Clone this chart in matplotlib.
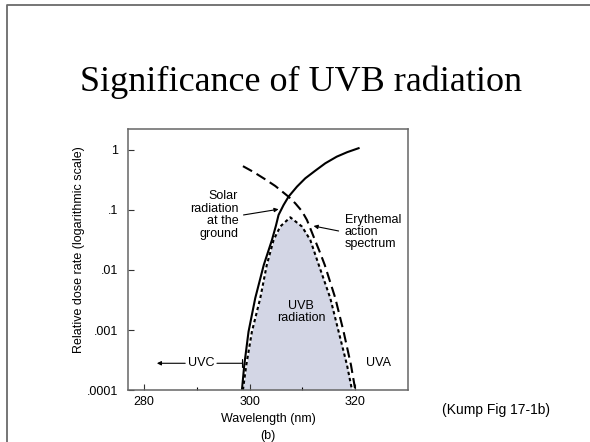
import matplotlib
matplotlib.use("Agg")
import matplotlib.pyplot as plt
from matplotlib.lines import Line2D
from matplotlib.ticker import FixedLocator, NullLocator

plt.rcParams['font.family'] = ['Liberation Sans', 'DejaVu Sans']

# solar radiation at the ground (solid)
solar_wl = [298.56, 299.0, 299.81, 301.08, 302.69, 304.24, 305.0, 305.49,
            306.44, 307.39, 308.98, 310.55, 312.45, 314.34, 316.5, 318.5,
            320.64]
solar_val = [1.0e-4, 2.6e-4, 9.4e-4, 3.4e-3, 1.21e-2, 3.16e-2, 5.5e-2,
             8.26e-2, 0.121, 0.167, 0.245, 0.337, 0.452, 0.600, 0.773, 0.92,
             1.07]

# erythemal action spectrum (dashed)
ery_wl = [298.75, 300.8, 302.97, 304.87, 306.14, 307.39, 308.66, 309.92,
          310.87, 312.12, 313.39, 314.24, 316.23, 317.80, 319.20, 320.02]
ery_val = [0.537, 0.427, 0.324, 0.251, 0.204, 0.166, 0.129, 9.55e-2,
           6.8e-2, 3.6e-2, 1.9e-2, 1.21e-2, 3.4e-3, 9.4e-4, 2.6e-4, 1.0e-4]

# product = UVB dose (dotted, shaded)
uvb_wl = [298.75, 299.38, 300.45, 302.03, 303.26, 304.55, 305.81, 307.71,
          309.92, 311.50, 313.11, 315.28, 316.86, 318.45, 319.39]
uvb_val = [1.0e-4, 2.6e-4, 9.4e-4, 3.4e-3, 1.21e-2, 3.16e-2, 5.3e-2, 7.55e-2,
           5.3e-2, 3.16e-2, 1.21e-2, 3.4e-3, 9.4e-4, 2.6e-4, 1.0e-4]

ytick_vals = [1e-4, 1e-3, 1e-2, 1e-1, 1]
ytick_labels = ['.0001', '.001', '.01', '.1', '1']
xtick_major = [280, 300, 320]
xtick_minor = [290, 310]

fig = plt.figure(figsize=(5.9, 4.42), dpi=100)
ax = fig.add_axes([0.217, 0.1176, 0.4746, 0.5912])

ax.fill_between(uvb_wl, 1e-4, uvb_val, color='#d3d6e5', lw=0)
ax.plot(uvb_wl, uvb_val, color='black', lw=1.5, linestyle=(0, (1.6, 1.4)))
ax.plot(ery_wl, ery_val, color='black', lw=1.5, linestyle=(0, (5, 2.5)))
ax.plot(solar_wl, solar_val, color='black', lw=1.5)

ax.set_yscale('log')
ax.set_xlim(277, 330)
ax.set_ylim(1e-4, 2.26)
ax.yaxis.set_major_locator(FixedLocator(ytick_vals))
ax.yaxis.set_minor_locator(NullLocator())
ax.set_yticklabels(ytick_labels)
ax.set_xticks(xtick_major)
ax.set_xticks(xtick_minor, minor=True)
ax.tick_params(axis='both', which='major', direction='in', length=4.5,
               width=0.8, labelsize=9, color='#333333')
ax.tick_params(axis='x', which='minor', direction='in', length=2.5, width=0.8)
ax.tick_params(axis='y', pad=7)
ax.tick_params(axis='x', pad=4)
for s in ax.spines.values():
    s.set_color('#666666')
    s.set_linewidth(1.1)

# labels inside the plot
ax.text(297.86, 0.0826, 'Solar\nradiation\nat the\nground', ha='right',
        va='center', fontsize=9, linespacing=1.05, multialignment='right')
ax.annotate('', xy=(305.49, 10**-0.988), xytext=(298.86, 10**-1.083),
            arrowprops=dict(arrowstyle='-|>', color='black', lw=0.8,
                            mutation_scale=6, shrinkA=0, shrinkB=0))
ax.text(317.99, 0.043, 'Erythemal\naction\nspectrum', ha='left', va='center',
        fontsize=9, linespacing=1.05)
ax.annotate('', xy=(312.12, 10**-1.267), xytext=(316.86, 10**-1.35),
            arrowprops=dict(arrowstyle='-|>', color='black', lw=0.8,
                            mutation_scale=6, shrinkA=0, shrinkB=0))
ax.text(309.73, 0.002, 'UVB\nradiation', ha='center', va='center',
        fontsize=9, linespacing=1.05)
ax.text(290.85, 2.79e-4, 'UVC', ha='center', va='center', fontsize=9)
ax.annotate('', xy=(282.46, 2.79e-4), xytext=(287.82, 2.79e-4),
            arrowprops=dict(arrowstyle='-|>', color='black', lw=0.8,
                            mutation_scale=6, shrinkA=0, shrinkB=0))
ax.annotate('', xy=(298.56, 2.79e-4), xytext=(293.83, 2.79e-4),
            arrowprops=dict(arrowstyle='-[, widthB=0.35, lengthB=0',
                            color='black', lw=0.8,
                            mutation_scale=8, shrinkA=0, shrinkB=0))
ax.text(324.43, 2.79e-4, 'UVA', ha='center', va='center', fontsize=9)

# slide frame, title and captions
fig.add_artist(Line2D([7/590, 7/590, 1.0], [0.0, 1 - 5/442, 1 - 5/442],
                      color='#6a6a6a', lw=1.3))
fig.text(301/590, 1 - 91/442, 'Significance of UVB radiation', ha='center',
         va='baseline', fontsize=26, family='Liberation Serif')
fig.text(79/590, 1 - 250/442, 'Relative dose rate (logarithmic scale)',
         rotation=90, ha='center', va='center', fontsize=9)
fig.text(268.3/590, 1 - 419/442, 'Wavelength (nm)', ha='center', va='center',
         fontsize=9)
fig.text(268.3/590, 1 - 436/442, '(b)', ha='center', va='center', fontsize=9)
fig.text(496.5/590, 1 - 410/442, '(Kump Fig 17-1b)', ha='center',
         va='center', fontsize=10)

fig.savefig('out.png', dpi=100)
